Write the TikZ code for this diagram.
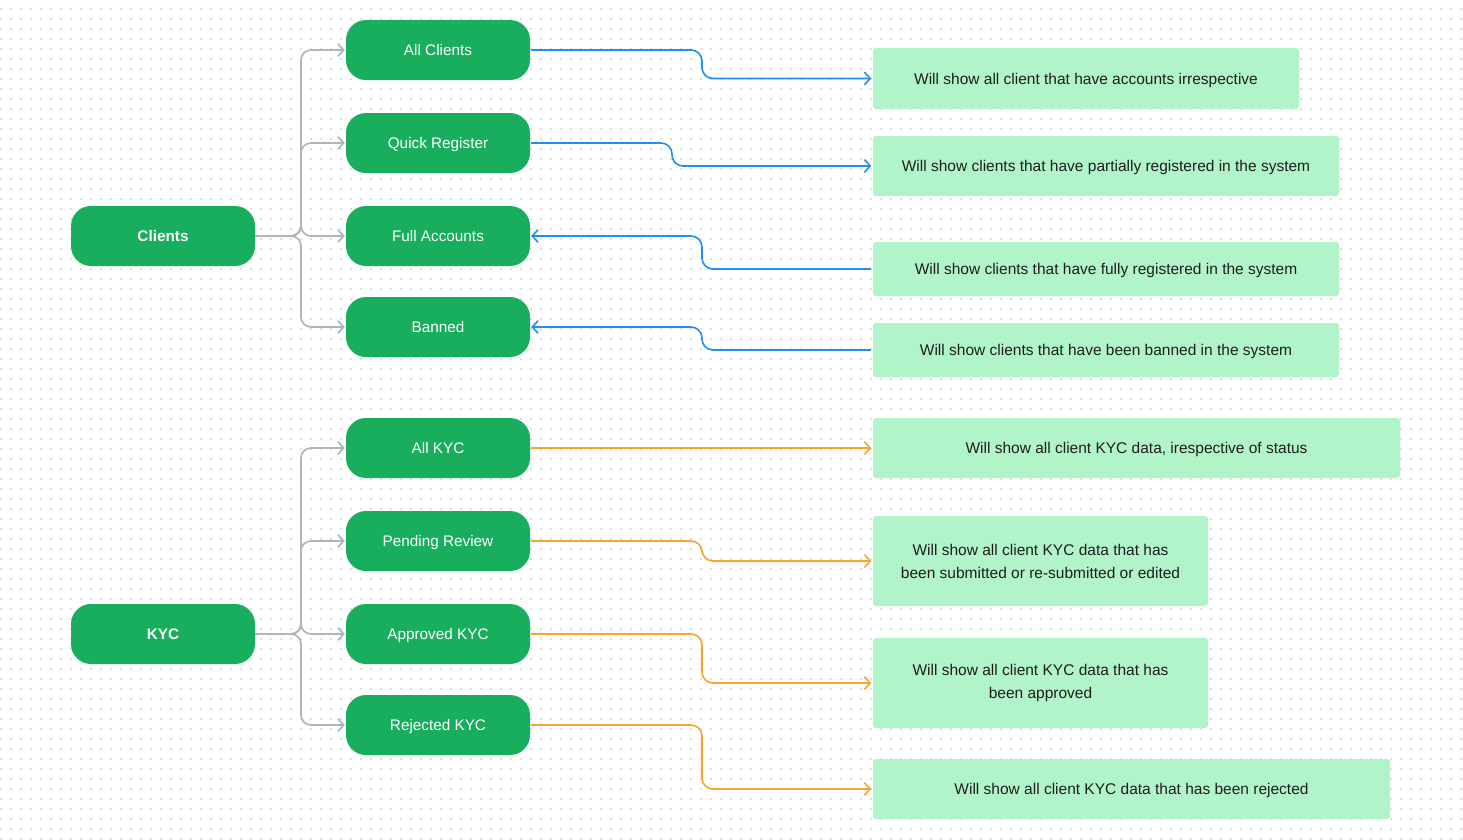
\documentclass[tikz,border=0pt]{standalone}
\usepackage{fontspec}
\setmainfont{Liberation Sans}
\usetikzlibrary{arrows.meta}
\definecolor{gfill}{HTML}{18AE5E}
\definecolor{lfill}{HTML}{B1F4C9}
\definecolor{dotc}{HTML}{DEDEDE}
\definecolor{grayc}{HTML}{B5B5B5}
\definecolor{bluec}{HTML}{1E90F5}
\definecolor{orc}{HTML}{F8A52E}
\definecolor{txt}{HTML}{1E1E1E}
\tikzset{
  gbox/.style={fill=gfill, rounded corners=20pt, minimum width=184pt, minimum height=60pt, inner sep=0pt, text=white, text height=11pt, text depth=0pt, font=\fontsize{15.3}{18}\selectfont},
  lbox/.style={fill=lfill, rounded corners=3pt, inner sep=0pt, text=txt, align=center, font=\fontsize{15.5}{23}\selectfont},
  oneline/.style={text height=11pt, text depth=0pt},
  tip/.style={-{Straight Barb[length=5.5pt,width=12pt,line cap=round]}},
  gline/.style={draw=grayc, line width=1.7pt, rounded corners=10pt, tip},
  bline/.style={draw=bluec, line width=1.6pt, rounded corners=11pt, tip},
  oline/.style={draw=orc, line width=1.6pt, rounded corners=11pt, tip},
}
\begin{document}
\begin{tikzpicture}[x=1pt,y=-1pt]
\useasboundingbox (0,0) rectangle (1463,839);
\fill[white] (0,0) rectangle (1463,839);
\foreach \y in {9,19,...,839}
  \draw[dotc, line width=1.5pt, dash pattern=on 1.5pt off 8.5pt] (0.25,\y) -- (1463,\y);

% left main nodes
\node[gbox, font=\bfseries\fontsize{15.3}{18}\selectfont] (clients) at (163,236) {Clients};
\node[gbox, font=\bfseries\fontsize{15.3}{18}\selectfont] (kyc) at (163,634) {KYC};

% middle nodes
\node[gbox] (allc) at (438,50) {All Clients};
\node[gbox] (quick) at (438,143) {Quick Register};
\node[gbox] (full) at (438,236) {Full Accounts};
\node[gbox] (banned) at (438,327) {Banned};
\node[gbox] (allk) at (438,448) {All KYC};
\node[gbox] (pend) at (438,541) {Pending Review};
\node[gbox] (appr) at (438,634) {Approved KYC};
\node[gbox] (rej) at (438,725) {Rejected KYC};

% description boxes
\node[lbox, oneline, minimum width=426pt, minimum height=61pt] (d1) at (1086,78.5) {Will show all client that have accounts irrespective};
\node[lbox, oneline, minimum width=466pt, minimum height=60pt] (d2) at (1106,166) {Will show clients that have partially registered in the system};
\node[lbox, oneline, minimum width=466pt, minimum height=54pt] (d3) at (1106,269) {Will show clients that have fully registered in the system};
\node[lbox, oneline, minimum width=466pt, minimum height=54pt] (d4) at (1106,350) {Will show clients that have been banned in the system};
\node[lbox, oneline, minimum width=527pt, minimum height=60pt] (d5) at (1136.5,448) {Will show all client KYC data, irespective of status};
\node[lbox, minimum width=335pt, minimum height=90pt] (d6) at (1040.5,561) {Will show all client KYC data that has\\been submitted or re-submitted or edited};
\node[lbox, minimum width=335pt, minimum height=90pt] (d7) at (1040.5,683) {Will show all client KYC data that has\\been approved};
\node[lbox, oneline, minimum width=517pt, minimum height=60pt] (d8) at (1131.5,789) {Will show all client KYC data that has been rejected};

\coordinate (bx) at (301,0);
\coordinate (mx) at (702,0);
\coordinate (qx) at (672,0);

% gray tree connectors
\foreach \t in {allc,quick,full,banned}
  \draw[gline, shorten >=1pt] (clients.east) -- (clients.east -| bx) -- (\t.west -| bx) -- (\t.west);
\foreach \t in {allk,pend,appr,rej}
  \draw[gline, shorten >=1pt] (kyc.east) -- (kyc.east -| bx) -- (\t.west -| bx) -- (\t.west);

% blue connectors
\draw[bline, shorten >=1.5pt] ([xshift=1pt]allc.east) -- (allc.east -| mx) -- (d1.west -| mx) -- (d1.west);
\draw[bline, shorten >=1.5pt] ([xshift=1pt]quick.east) -- (quick.east -| qx) -- (d2.west -| qx) -- (d2.west);
\draw[bline, shorten >=1pt] ([xshift=-2pt]d3.west) -- (d3.west -| mx) -- (full.east -| mx) -- (full.east);
\draw[bline, shorten >=1pt] ([xshift=-2pt]d4.west) -- (d4.west -| mx) -- (banned.east -| mx) -- (banned.east);

% orange connectors
\draw[oline, shorten >=1.5pt] ([xshift=1pt]allk.east) -- (d5.west);
\draw[oline, shorten >=1.5pt] ([xshift=1pt]pend.east) -- (pend.east -| mx) -- (d6.west -| mx) -- (d6.west);
\draw[oline, shorten >=1.5pt] ([xshift=1pt]appr.east) -- (appr.east -| mx) -- (d7.west -| mx) -- (d7.west);
\draw[oline, shorten >=1.5pt] ([xshift=1pt]rej.east) -- (rej.east -| mx) -- (d8.west -| mx) -- (d8.west);
\end{tikzpicture}
\end{document}
